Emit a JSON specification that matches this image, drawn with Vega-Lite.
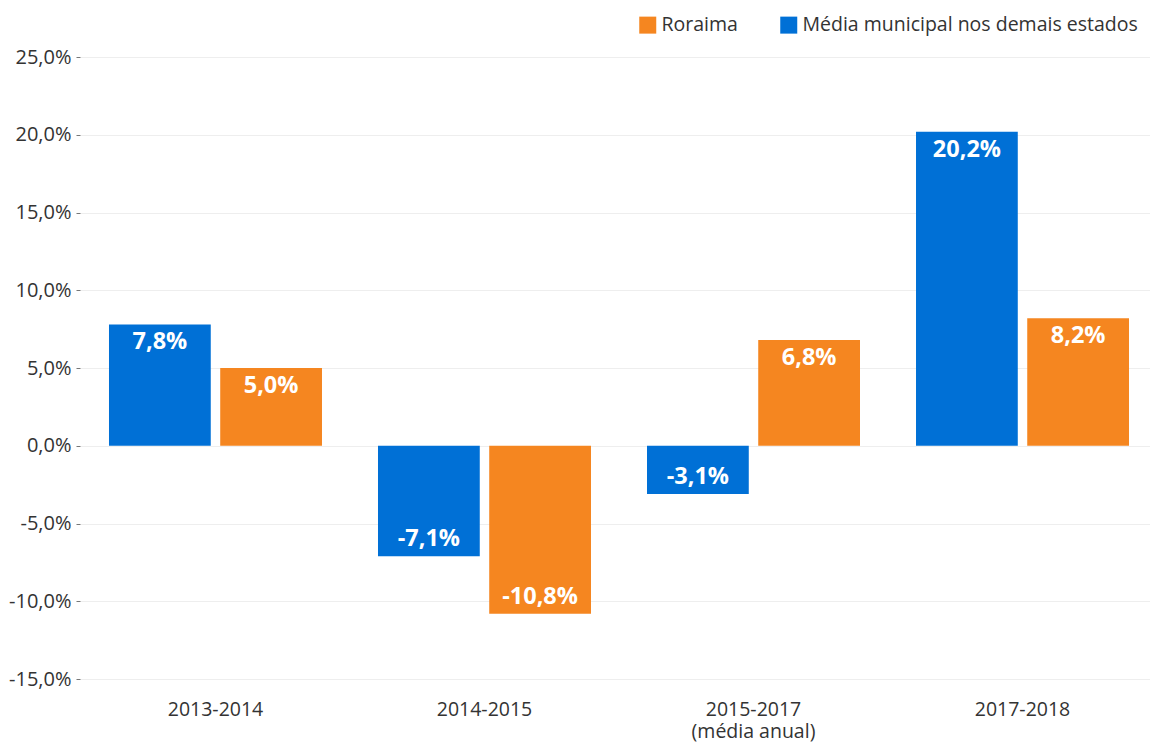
{
  "$schema": "https://vega.github.io/schema/vega-lite/v6.json",
  "width": 1070,
  "height": 622,
  "autosize": {"type": "none"},
  "padding": {"left": 80, "top": 57, "right": 0, "bottom": 63},
  "background": "white",
  "config": {
    "font": "Open Sans",
    "view": {"stroke": null},
    "locale": {
      "number": {"decimal": ",", "thousands": ".", "grouping": [3], "currency": ["R$", ""], "percent": "%", "minus": "-"}
    }
  },
  "data": {
    "values": [
      {"periodo": "2013-2014", "serie": "Média municipal nos demais estados", "valor": 0.078},
      {"periodo": "2013-2014", "serie": "Roraima", "valor": 0.05},
      {"periodo": "2014-2015", "serie": "Média municipal nos demais estados", "valor": -0.071},
      {"periodo": "2014-2015", "serie": "Roraima", "valor": -0.108},
      {"periodo": "2015-2017", "serie": "Média municipal nos demais estados", "valor": -0.031},
      {"periodo": "2015-2017", "serie": "Roraima", "valor": 0.068},
      {"periodo": "2017-2018", "serie": "Média municipal nos demais estados", "valor": 0.202},
      {"periodo": "2017-2018", "serie": "Roraima", "valor": 0.082}
    ]
  },
  "encoding": {
    "x": {
      "field": "periodo",
      "type": "nominal",
      "sort": ["2013-2014", "2014-2015", "2015-2017", "2017-2018"],
      "scale": {"paddingInner": 0.2082, "paddingOuter": 0.0929, "align": 0.58},
      "axis": {
        "title": null,
        "labelAngle": 0,
        "ticks": false,
        "domain": false,
        "labelFontSize": 19.5,
        "labelColor": "#333333",
        "labelPadding": 21,
        "labelLineHeight": 22,
        "labelExpr": "datum.value == '2015-2017' ? ['2015-2017', '(média anual)'] : datum.label"
      }
    },
    "y": {
      "field": "valor",
      "type": "quantitative",
      "scale": {"domain": [-0.15, 0.25], "nice": false},
      "axis": {
        "title": null,
        "values": [-0.15, -0.1, -0.05, 0, 0.05, 0.1, 0.15, 0.2, 0.25],
        "format": ".1%",
        "labelFontSize": 20,
        "labelColor": "#333333",
        "labelPadding": 5,
        "tickSize": 4,
        "tickColor": "#777777",
        "domain": false,
        "gridColor": "#eeeeee",
        "gridWidth": 1
      }
    }
  },
  "layer": [
    {
      "mark": {"type": "bar"},
      "encoding": {
        "xOffset": {
          "field": "serie",
          "type": "nominal",
          "scale": {"domain": ["Média municipal nos demais estados", "Roraima"], "paddingInner": 0.085, "paddingOuter": 0}
        },
        "color": {
          "field": "serie",
          "type": "nominal",
          "scale": {"domain": ["Roraima", "Média municipal nos demais estados"], "range": ["#F58620", "#0070D6"]},
          "legend": {
            "title": null,
            "orient": "none",
            "direction": "horizontal",
            "legendX": 558,
            "legendY": -42,
            "symbolType": "square",
            "symbolSize": 289,
            "symbolStrokeWidth": 0,
            "symbolOpacity": 1,
            "labelFontSize": 19.5,
            "labelColor": "#333333",
            "labelOffset": 4,
            "labelLimit": 500,
            "columnPadding": 41
          }
        }
      }
    },
    {
      "mark": {"type": "rule", "color": "#777777", "strokeWidth": 1.2, "opacity": 0.8},
      "encoding": {"y": {"datum": 0}}
    },
    {
      "transform": [{"filter": "datum.valor >= 0"}],
      "mark": {"type": "text", "color": "white", "fontWeight": "bold", "fontSize": 23.5, "dy": 18, "baseline": "middle"},
      "encoding": {
        "xOffset": {"field": "serie", "type": "nominal", "scale": {"domain": ["Média municipal nos demais estados", "Roraima"], "paddingInner": 0.085, "paddingOuter": 0}},
        "text": {"field": "valor", "type": "quantitative", "format": ".1%"}
      }
    },
    {
      "transform": [{"filter": "datum.valor < 0"}],
      "mark": {"type": "text", "color": "white", "fontWeight": "bold", "fontSize": 23.5, "dy": -17, "baseline": "middle"},
      "encoding": {
        "xOffset": {"field": "serie", "type": "nominal", "scale": {"domain": ["Média municipal nos demais estados", "Roraima"], "paddingInner": 0.085, "paddingOuter": 0}},
        "text": {"field": "valor", "type": "quantitative", "format": ".1%"}
      }
    }
  ]
}
